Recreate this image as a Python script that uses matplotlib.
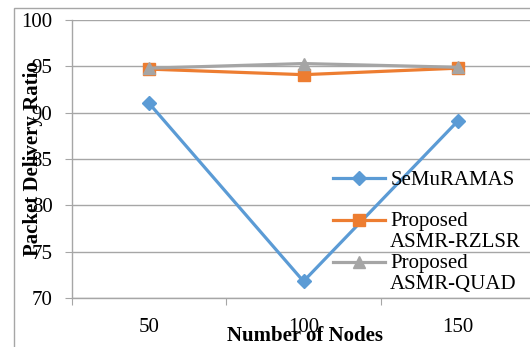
import matplotlib
matplotlib.use('Agg')
import matplotlib.pyplot as plt
from matplotlib.patches import Rectangle

nodes = ['50', '100', '150']
semuramas = [91.0, 71.8, 89.1]
asmr_rzlsr = [94.7, 94.1, 94.8]
asmr_quad = [94.8, 95.3, 94.9]

plt.rcParams['font.family'] = 'Liberation Serif'
gray = '#a6a6a6'
W, H = 530, 347

fig = plt.figure(figsize=(5.3, 3.47), dpi=100)
ax = fig.add_axes([72/W, 1-298/H, 463/W, 278/H])

x = [1, 2, 3]
l1, = ax.plot(x, semuramas, color='#5B9BD5', lw=2.3, marker='D', ms=7, label='SeMuRAMAS')
l2, = ax.plot(x, asmr_rzlsr, color='#ED7D31', lw=2.3, marker='s', ms=9, label='Proposed\nASMR-RZLSR')
l3, = ax.plot(x, asmr_quad, color='#A5A5A5', lw=2.3, marker='^', ms=9, label='Proposed\nASMR-QUAD')

ax.set_xlim(0.5, 3.5)
ax.set_ylim(70, 100)
ax.set_yticks(range(70, 101, 5))
ax.yaxis.grid(True, color=gray, lw=1)
ax.set_axisbelow(True)
for s in ['top', 'right']:
    ax.spines[s].set_visible(False)
for s in ['left', 'bottom']:
    ax.spines[s].set_color(gray)
    ax.spines[s].set_linewidth(1)

ax.set_xticks([0.5, 1.5, 2.5, 3.5])
ax.set_xticklabels([])
ax.set_xticks(x, minor=True)
ax.set_xticklabels(nodes, minor=True)
ax.tick_params(axis='x', which='major', length=5, color=gray, direction='out')
ax.tick_params(axis='x', which='minor', length=0, pad=14.5, labelsize=15)
ax.tick_params(axis='y', length=5, color=gray, pad=9, labelsize=15)

fig.text(305/W, 1-336/H, 'Number of Nodes', ha='center', va='center',
         fontweight='bold', fontsize=15)
fig.text(33/W, 1-159/H, 'Packet Delivery Ratio', ha='center', va='center',
         rotation=90, fontweight='bold', fontsize=15)

# legend, one box per entry so the uneven spacing can be matched
for handle, ypix, shift in [(l1, 180, 0), (l2, 232, 8.3), (l3, 274, 8.3)]:
    leg = fig.legend(handles=[handle], loc='center left',
                     bbox_to_anchor=(333/W, 1-ypix/H), frameon=False,
                     fontsize=15, handlelength=2.5, handletextpad=0.25,
                     borderpad=0, borderaxespad=0)
    for t in leg.get_texts():
        t.set_linespacing(1.15)
    for ln in leg.get_lines():
        ln.set_ydata([y + shift for y in ln.get_ydata()])

# outer chart border
fig.patches.append(Rectangle((14/W, -0.1), 2, 1-8/H+0.1, transform=fig.transFigure,
                             fill=False, edgecolor=gray, lw=1))

fig.savefig('out.png', dpi=100)
